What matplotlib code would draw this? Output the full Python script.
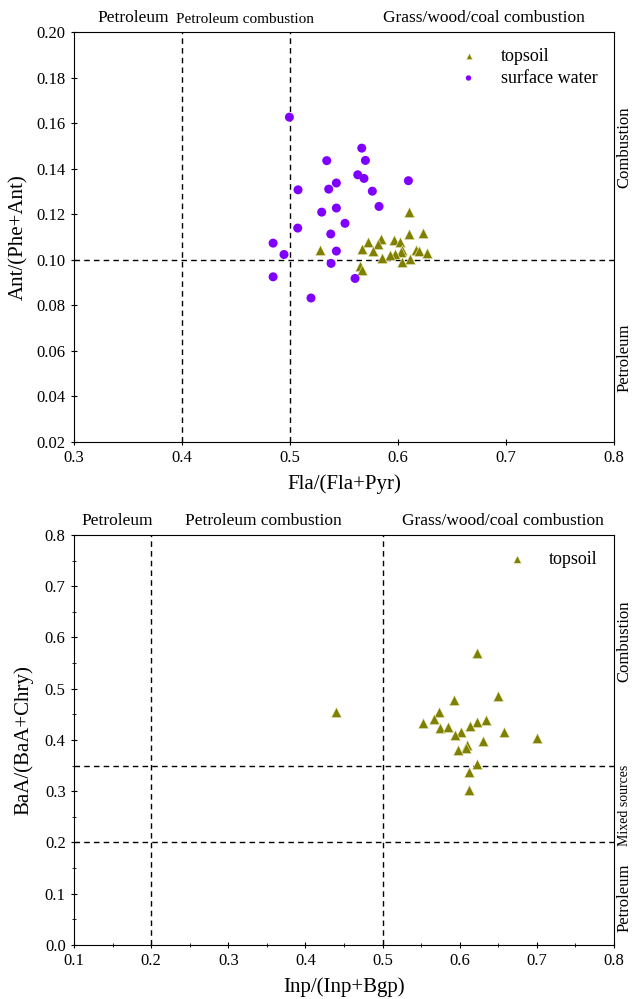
import numpy as np
import matplotlib
matplotlib.use("Agg")
import matplotlib.pyplot as plt
from matplotlib.ticker import MultipleLocator

plt.rcParams['font.family'] = ['Liberation Serif', 'DejaVu Serif']

# --- top panel: Fla/(Fla+Pyr) vs Ant/(Phe+Ant)
soil_fla = [0.610, 0.6235, 0.610, 0.584, 0.572, 0.581, 0.596, 0.602, 0.528, 0.567,
            0.577, 0.604, 0.617, 0.619, 0.627, 0.603, 0.5975, 0.593, 0.585, 0.611,
            0.604, 0.5645, 0.567]
soil_ant = [0.1209, 0.1116, 0.1111, 0.1091, 0.1076, 0.1067, 0.1086, 0.1080, 0.1042, 0.1045,
            0.1037, 0.1041, 0.1042, 0.1038, 0.1029, 0.1033, 0.1026, 0.1020, 0.1007, 0.1003,
            0.0988, 0.0972, 0.0956]
water_fla = [0.4994, 0.5664, 0.534, 0.5698, 0.5627, 0.5685, 0.6096, 0.5429, 0.5358, 0.5074,
             0.5762, 0.5824, 0.5429, 0.5293, 0.5509, 0.5071, 0.5377, 0.4843, 0.5429, 0.4944,
             0.538, 0.4843, 0.5602, 0.5194]
water_ant = [0.1626, 0.1490, 0.1435, 0.1436, 0.1373, 0.1357, 0.1347, 0.1337, 0.1310, 0.1307,
             0.1301, 0.1234, 0.1227, 0.1209, 0.1160, 0.1139, 0.1113, 0.1073, 0.1038, 0.1023,
             0.0984, 0.0925, 0.0918, 0.0832]

# --- bottom panel: Inp/(Inp+Bgp) vs BaA/(BaA+Chry)
soil_inp = [0.622, 0.649, 0.593, 0.573, 0.566, 0.552, 0.575, 0.585, 0.634, 0.622,
            0.613, 0.658, 0.700, 0.602, 0.594, 0.630, 0.610, 0.608, 0.598, 0.622,
            0.612, 0.612, 0.44]
soil_baa = [0.569, 0.485, 0.478, 0.455, 0.440, 0.433, 0.423, 0.425, 0.438, 0.435,
            0.427, 0.416, 0.403, 0.415, 0.410, 0.398, 0.390, 0.385, 0.380, 0.353,
            0.338, 0.302, 0.455]

olive = '#808000'
purple = '#8000ff'
dash = (0, (4, 3))

fig = plt.figure(figsize=(6.33, 9.99), dpi=100)
ax1 = fig.add_axes([0.117, 0.5576, 0.853, 0.4104])
ax2 = fig.add_axes([0.117, 0.0541, 0.853, 0.4104])

# top
ax1.scatter(soil_fla, soil_ant, marker='^', s=55, c=olive, edgecolors='#f0f0d0',
            linewidths=0.4, label='topsoil', zorder=3)
ax1.scatter(water_fla, water_ant, marker='o', s=42, c=purple, edgecolors='none',
            label='surface water', zorder=3)
ax1.axvline(0.4, color='k', ls=dash, lw=1)
ax1.axvline(0.5, color='k', ls=dash, lw=1)
ax1.axhline(0.10, color='k', ls=dash, lw=1)
ax1.set_xlim(0.3, 0.8)
ax1.set_ylim(0.02, 0.20)
ax1.xaxis.set_major_locator(MultipleLocator(0.1))
ax1.yaxis.set_major_locator(MultipleLocator(0.02))
ax1.yaxis.set_major_formatter(plt.FormatStrFormatter('%.2f'))
ax1.set_xlabel('Fla/(Fla+Pyr)', fontsize=15, labelpad=6)
ax1.set_ylabel('Ant/(Phe+Ant)', fontsize=15, labelpad=6)
ax1.tick_params(direction='inout', length=5, labelsize=12)
ax1.legend(loc='upper right', frameon=False, fontsize=13, handletextpad=0.8,
           labelspacing=0.25, bbox_to_anchor=(1.0, 1.0), markerscale=0.6)

ax1.text(0.11, 1.015, 'Petroleum', transform=ax1.transAxes, ha='center', va='bottom', fontsize=12.5)
ax1.text(0.316, 1.015, 'Petroleum combustion', transform=ax1.transAxes, ha='center', va='bottom',
         fontsize=11)
ax1.text(0.76, 1.015, 'Grass/wood/coal combustion', transform=ax1.transAxes, ha='center',
         va='bottom', fontsize=12.5)
ax1.text(1.02, 0.72, 'Combustion', transform=ax1.transAxes, rotation=90, ha='center',
         va='center', fontsize=12)
ax1.text(1.02, 0.205, 'Petroleum', transform=ax1.transAxes, rotation=90, ha='center',
         va='center', fontsize=12)

# bottom
ax2.scatter(soil_inp, soil_baa, marker='^', s=55, c=olive, edgecolors='#f0f0d0',
            linewidths=0.4, label='topsoil', zorder=3)
ax2.axvline(0.2, color='k', ls=dash, lw=1)
ax2.axvline(0.5, color='k', ls=dash, lw=1)
ax2.axhline(0.35, color='k', ls=dash, lw=1)
ax2.axhline(0.20, color='k', ls=dash, lw=1)
ax2.set_xlim(0.1, 0.8)
ax2.set_ylim(0.0, 0.8)
ax2.xaxis.set_major_locator(MultipleLocator(0.1))
ax2.xaxis.set_minor_locator(MultipleLocator(0.05))
ax2.yaxis.set_major_locator(MultipleLocator(0.1))
ax2.yaxis.set_minor_locator(MultipleLocator(0.05))
ax2.set_xlabel('Inp/(Inp+Bgp)', fontsize=15, labelpad=6)
ax2.set_ylabel('BaA/(BaA+Chry)', fontsize=15, labelpad=8)
ax2.tick_params(which='major', direction='inout', length=5, labelsize=12)
ax2.tick_params(which='minor', direction='inout', length=3)
ax2.legend(loc='upper right', frameon=False, fontsize=13, handletextpad=0.8,
           bbox_to_anchor=(1.0, 1.0), markerscale=0.75)

ax2.text(0.08, 1.015, 'Petroleum', transform=ax2.transAxes, ha='center', va='bottom', fontsize=12.5)
ax2.text(0.35, 1.015, 'Petroleum combustion', transform=ax2.transAxes, ha='center',
         va='bottom', fontsize=12.5)
ax2.text(0.795, 1.015, 'Grass/wood/coal combustion', transform=ax2.transAxes, ha='center',
         va='bottom', fontsize=12.5)
ax2.text(1.02, 0.74, 'Combustion', transform=ax2.transAxes, rotation=90, ha='center',
         va='center', fontsize=12)
ax2.text(1.02, 0.34, 'Mixed sources', transform=ax2.transAxes, rotation=90, ha='center',
         va='center', fontsize=10)
ax2.text(1.02, 0.115, 'Petroleum', transform=ax2.transAxes, rotation=90, ha='center',
         va='center', fontsize=12)

fig.savefig('out.png', dpi=100)
